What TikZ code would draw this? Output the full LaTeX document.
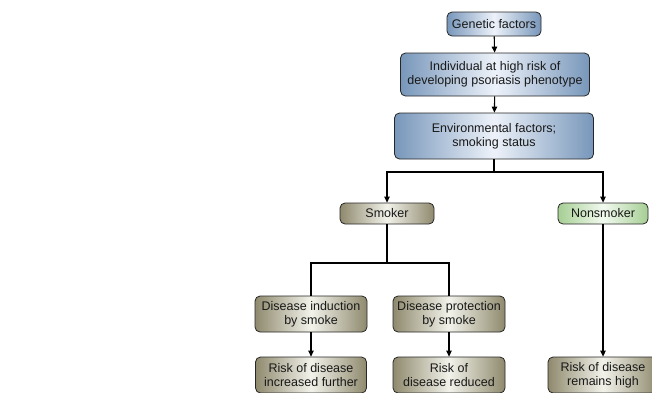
\documentclass[tikz,border=0pt]{standalone}
\usepackage{fontspec}
\setmainfont{Liberation Sans}
\usetikzlibrary{arrows.meta}
\definecolor{bluedk}{rgb}{0.47,0.59,0.73}
\definecolor{bluelt}{rgb}{0.93,0.95,0.98}
\definecolor{olivedk}{rgb}{0.56,0.54,0.43}
\definecolor{olivelt}{rgb}{0.95,0.95,0.92}
\definecolor{greendk}{rgb}{0.65,0.81,0.58}
\definecolor{greenlt}{rgb}{0.95,0.98,0.94}
\tikzset{
  box/.style={draw=black!85, line width=0.8pt, rounded corners=5pt, align=center,
    inner sep=0pt, font=\fontsize{12.5}{14}\selectfont, text=black!90},
  bluebox/.style={box, left color=bluedk, right color=bluedk, middle color=bluelt},
  olivebox/.style={box, left color=olivedk, right color=olivedk, middle color=olivelt},
  greenbox/.style={box, left color=greendk, right color=greendk, middle color=greenlt},
  arr/.style={line width=1.1pt, -{Triangle[length=6pt,width=5.5pt]}},
  ln/.style={line width=1.1pt}
}
\begin{document}
\begin{tikzpicture}[x=1pt,y=-1pt]
\useasboundingbox (0,0) rectangle (652,392);
\node[bluebox, minimum width=94, minimum height=24] (gen) at (494,24) {Genetic factors};
\node[bluebox, minimum width=189, minimum height=43] (ind) at (495,74.5) {Individual at high risk of\\developing psoriasis phenotype};
\node[bluebox, minimum width=199, minimum height=46] (env) at (494,136) {Environmental factors;\\smoking status};
\node[olivebox, minimum width=94, minimum height=21] (smk) at (387,213.5) {Smoker};
\node[greenbox, minimum width=90, minimum height=21] (non) at (603,213.5) {Nonsmoker};
\node[olivebox, minimum width=112, minimum height=36] (dind) at (311,314) {Disease induction\\by smoke};
\node[olivebox, minimum width=112, minimum height=36] (dprot) at (449,314) {Disease protection\\by smoke};
\node[olivebox, minimum width=111, minimum height=36] (rinc) at (311,375) {Risk of disease\\increased further};
\node[olivebox, minimum width=112, minimum height=36] (rred) at (449,375) {Risk of\\disease reduced};
\node[olivebox, minimum width=110, minimum height=36] (rhigh) at (603,375) {Risk of disease\\remains high};
\coordinate (j1) at (494,172);
\coordinate (j2) at (387,263);
\draw[arr] (gen) -- (ind);
\draw[arr] (ind) -- (env);
\draw[ln] (env.south) -- (j1);
\draw[arr] (j1) -| (smk.north);
\draw[arr] (j1) -| (non.north);
\draw[ln] (smk.south) -- (j2);
\draw[ln] (j2) -| (dind.north);
\draw[ln] (j2) -| (dprot.north);
\draw[arr] (dind) -- (rinc);
\draw[arr] (dprot) -- (rred);
\draw[arr] (non) -- (rhigh);
\end{tikzpicture}
\end{document}
